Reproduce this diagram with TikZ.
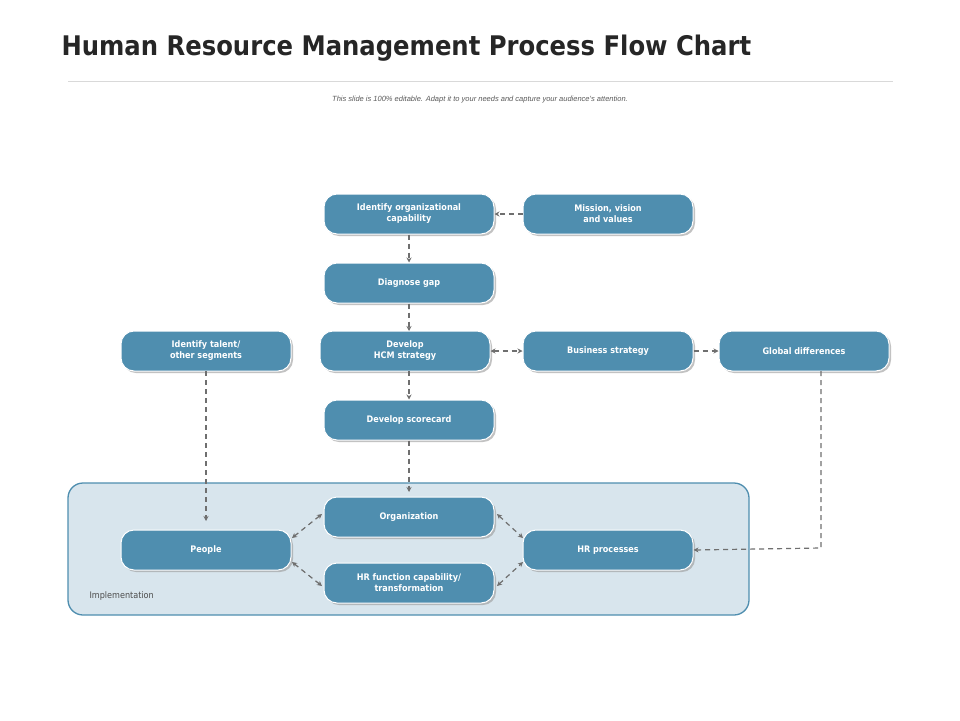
\documentclass[tikz,border=0pt]{standalone}
\usepackage{fontspec}
\setmainfont{DejaVu Sans Condensed}
\newfontfamily\liber{Liberation Sans}
\usetikzlibrary{shadows,arrows.meta}
\definecolor{nodeblue}{HTML}{4F8EAF}
\definecolor{boxfill}{HTML}{D8E5ED}
\definecolor{arrgray}{HTML}{6F6F6F}
\tikzset{
 pill/.style={rounded corners=13pt, fill=nodeblue, draw=white, line width=1pt, minimum width=170pt, minimum height=40pt, text=white, font=\bfseries\fontsize{9}{11}\selectfont, align=center, drop shadow={shadow xshift=2pt, shadow yshift=-2pt, fill=black!40, opacity=0.6}},
 conn/.style={draw=arrgray, dashed, dash pattern=on 5pt off 4pt, line width=1.2pt, -{Stealth[length=5pt,width=5pt]}},
 conn2/.style={conn, {Stealth[length=5pt,width=5pt]}-{Stealth[length=5pt,width=5pt]}}
}
\begin{document}
\begin{tikzpicture}[x=1pt,y=-1pt]
\useasboundingbox (0,0) rectangle (960,720);
\node[anchor=west, font=\bfseries\fontsize{27}{30}\selectfont, text=black!85] (title) at (58,48) {Human Resource Management Process Flow Chart};
\draw[black!15, line width=0.6pt] (68,81) -- (893,81);
\node[font=\liber\itshape\fontsize{7.5}{9}\selectfont, text=black!65] (sub) at (480,100) {This slide is 100\% editable. Adapt it to your needs and capture your audience's attention.};
\draw[draw=nodeblue, fill=boxfill, line width=1.3pt, rounded corners=15pt] (68,483) rectangle (749,615);
\node[anchor=west, font=\fontsize{9}{11}\selectfont, text=black!70] (impl) at (86,596) {Implementation};
\node[pill] (ioc) at (409,214) {Identify organizational\\capability};
\node[pill] (mis) at (608,214) {Mission, vision\\and values};
\node[pill] (dg) at (409,283) {Diagnose gap};
\node[pill] (hcm) at (405,351) {Develop\\HCM strategy};
\node[pill] (bs) at (608,351) {Business strategy};
\node[pill] (gd) at (804,351) {Global differences};
\node[pill] (it) at (206,351) {Identify talent/\\other segments};
\node[pill] (sc) at (409,420) {Develop scorecard};
\node[pill] (org) at (409,517) {Organization};
\node[pill] (ppl) at (206,550) {People};
\node[pill] (hrf) at (409,583) {HR function capability/\\transformation};
\node[pill] (hrp) at (608,550) {HR processes};
\coordinate (gdc) at (821,548);
\path[conn] (mis) -- (ioc);
\path[conn] (ioc.south) -- (dg.north);
\path[conn] (dg.south) -- (409,331);
\path[conn] (409,371) -- (sc.north);
\path[conn2] (hcm) -- (bs);
\path[conn] (bs) -- (gd);
\path[conn] (sc.south) -- (409,492);
\path[conn] (206,371) -- (206,521);
\path[conn] (821,371) -- (gdc) -- (hrp.east);
\path[conn2] (292,538) -- (322,514);
\path[conn2] (292,562) -- (322,586);
\path[conn2] (497,514) -- (523,538);
\path[conn2] (497,586) -- (523,562);
\end{tikzpicture}
\end{document}
